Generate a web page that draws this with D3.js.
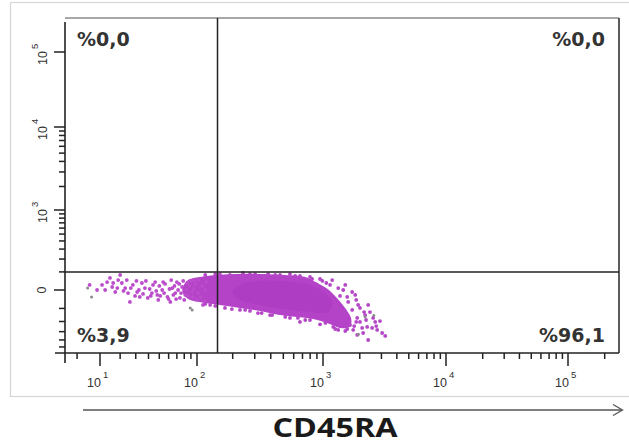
<!DOCTYPE html>
<html>
<head>
<meta charset="utf-8">
<script src="https://cdn.jsdelivr.net/npm/d3@7"></script>
<style>
  html, body { margin: 0; padding: 0; background: #fff; }
  svg { display: block; }
</style>
</head>
<body>
<svg id="chart" width="629" height="444"></svg>
<script>
// CD45RA (x) against the second marker (y), biexponential display.

// Axis decades and minor tick values
const xDecades = [10, 100, 1000, 10000, 100000];
const yDecades = [1000, 10000, 100000];
const xLowTicks = [3];
const yNegTicks = [-100, -200, -300, -400, -500];
const topValue = 262144;

// Quadrant gates and percentages
const gateCD45RA = 150;
const gateY = 100;
const quadrantText = ["%0,0", "%0,0", "%3,9", "%96,1"];

// Dense core of the population: outline and darker centre [CD45RA, y]
const coreOutline = [
  [86, 45], [106, 62], [143.6, 74], [209, 80], [330, 80], [517, 74], [734, 62],
  [874, 34], [1085, 0], [1309, -49], [1522, -110], [1665, -170], [1636, -242],
  [1380, -251], [1143, -213], [843, -170], [637, -155], [472, -139], [330, -110],
  [229, -91], [157, -72], [106, -55], [86, -38], [78.5, 0]
];
const coreCentre = [
  [252, 34], [472, 45], [798, 24], [1046, -14], [1190, -66], [1104, -125],
  [798, -125], [517, -104], [330, -78], [229, -49], [198, -9]
];

// Sparse events on the dim side of the population
const tailEvents = [
  [6.6, 24], [9.0, 0], [10.9, 24], [13.2, 39], [14.6, 62], [16.2, 34], [18.9, 50],
  [20, 80], [18.4, 9], [23, 9], [24.8, -14], [26, -60], [28, 24], [31, -9], [33, -33],
  [34.6, 34], [37, 9], [39.4, -38], [43, -14], [44, 24], [48, -23], [49, -49], [53, 0],
  [54, 39], [58.7, -33], [62, -60], [64.4, 9], [68, -14], [70, 39], [74, -38], [77, 14],
  [81.5, -23], [84.5, 34], [92, -9], [96, 50], [100, -49], [113, -78], [118, 0],
  [12.3, 0], [15.7, 14], [17.3, -9], [21, 34], [22, -4], [24, 50], [26.6, 9], [29.5, -28],
  [30.5, 45], [32.3, 0], [35.5, -18], [37.8, 45], [41, 4.5], [42, -28], [46, 39], [47, -4],
  [50, 19], [51, -28], [55, -14], [56, 29], [60, -44], [61, 4.5], [63, 50], [65.6, -23],
  [67, 19], [69, -44], [71.6, 0], [73, 29], [75.5, -14], [78.5, 45], [80, -49], [83, 0],
  [86, -28], [87.5, 19], [90.5, 45], [93, -33], [94.5, 4.5], [98, 29], [102, -14],
  [104, 50], [108, -33], [111, 19], [116, -55], [120.5, 39]
];

// Events along the upper and lower edge of the core and on the bright side
const edgeEvents = [
  [157, 86], [190, 80], [242, 93], [302, 86], [382, 86], [472, 80], [562, 86],
  [670, 74], [798, 68], [950, 56], [1065, 34],
  [118, 80], [143.6, 86], [209, 74], [275, 86], [362, 74], [433, 80], [616, 74],
  [828, 56], [990, 45], [1143, 24],
  [130, -78], [173, -97], [275, -117], [395, -147], [562, -170], [734, -187],
  [950, -226], [1260, -272], [1522, -293], [229, -110], [340, -132], [670, -204],
  [118, -72], [143.6, -84], [197, -104], [252, -110], [318, -132], [410, -147],
  [517, -162], [646, -170], [798, -187], [1046, -213], [1214, -251],
  [1190, 50], [1333, 9], [1465, 0], [1580, -33], [1836, -23], [1940, -78], [2008, -97],
  [2212, -147], [2420, -125], [2570, -170], [2296, -251], [2090, -261], [2130, -315],
  [2520, -261], [2770, -282], [3040, -315], [1905, -338], [1768, -282], [1665, -232],
  [3220, -350], [2340, -401], [2670, -204], [2250, -187], [1870, -204],
  [1380, -28], [1608, -60], [1733, -110], [1905, -170], [2008, -204], [1800, -242],
  [1580, -272], [1333, -282], [2170, -125], [2340, -78], [2720, -242], [2920, -196],
  [1870, -49], [1733, -9], [1522, 24]
];
const greyEvents = [
  [6.0, 9], [7.2, -33], [89, -97], [92, -110], [2212, -160], [2600, -150], [1950, -330]
];

// ---------- scales ----------
const W = 629, H = 444;
const plot = { left: 65, top: 18, right: 619, bottom: 353 };

const xSym = d3.scaleSymlog().constant(20).domain([0, topValue]).range([0, 1]);
const xPix = d3.scaleLinear()
  .domain([0, 10, 100, 1e3, 1e4, 1e5, topValue].map(xSym))
  .range([plot.left, 100, 197, 323, 446, 568, plot.right]);
const x = v => xPix(xSym(v));

const ySym = d3.scaleSymlog().constant(200).domain([-600, topValue]).range([0, 1]);
const yPix = d3.scaleLinear()
  .domain([-600, 0, 1e3, 1e4, 1e5, topValue].map(ySym))
  .range([plot.bottom, 290, 210, 127, 52, plot.top]);
const y = v => yPix(ySym(v));

const svg = d3.select("#chart");
const ink = "#222";
const textInk = "#333";

// outer panel frame
svg.append("rect")
  .attr("x", 10.5).attr("y", 2.5).attr("width", 640).attr("height", 394)
  .attr("fill", "none").attr("stroke", "#d6d6d6").attr("stroke-width", 1.2);

// ---------- events ----------
const g = svg.append("g");
const area = d3.line().x(d => x(d[0])).y(d => y(d[1])).curve(d3.curveCatmullRomClosed.alpha(0.5));

g.append("path").attr("d", area(coreOutline))
  .attr("fill", "#b443c8").attr("stroke", "#b443c8").attr("stroke-width", 2);
g.append("path").attr("d", area(coreCentre))
  .attr("fill", "#a838be").attr("opacity", 0.5);

g.selectAll("circle.tail").data(tailEvents).join("circle")
  .attr("class", "tail")
  .attr("cx", d => x(d[0])).attr("cy", d => y(d[1])).attr("r", 1.9)
  .attr("fill", "#bb4ccb");
g.selectAll("circle.edge").data(edgeEvents).join("circle")
  .attr("class", "edge")
  .attr("cx", d => x(d[0])).attr("cy", d => y(d[1])).attr("r", 1.9)
  .attr("fill", "#b447c6");
g.selectAll("circle.grey").data(greyEvents).join("circle")
  .attr("class", "grey")
  .attr("cx", d => x(d[0])).attr("cy", d => y(d[1])).attr("r", 1.5)
  .attr("fill", "#8c8c8c");

// ---------- frame and quadrant gates ----------
svg.append("line").attr("x1", plot.left).attr("x2", plot.right)
  .attr("y1", plot.top).attr("y2", plot.top)
  .attr("stroke", "#8a8a8a").attr("stroke-width", 1.4);
svg.append("line").attr("x1", plot.right).attr("x2", plot.right)
  .attr("y1", plot.top).attr("y2", plot.bottom)
  .attr("stroke", "#333").attr("stroke-width", 1.6);
// axes
svg.append("line").attr("x1", plot.left).attr("x2", plot.left)
  .attr("y1", plot.top + 4).attr("y2", plot.bottom + 10)
  .attr("stroke", ink).attr("stroke-width", 1.6);
svg.append("line").attr("x1", plot.left - 10).attr("x2", plot.right)
  .attr("y1", plot.bottom).attr("y2", plot.bottom)
  .attr("stroke", ink).attr("stroke-width", 1.6);

svg.append("line").attr("x1", x(gateCD45RA)).attr("x2", x(gateCD45RA))
  .attr("y1", plot.top).attr("y2", plot.bottom)
  .attr("stroke", ink).attr("stroke-width", 1.5);
svg.append("line").attr("x1", plot.left).attr("x2", plot.right)
  .attr("y1", y(gateY)).attr("y2", y(gateY))
  .attr("stroke", ink).attr("stroke-width", 1.5);

// ---------- x ticks ----------
const xMinor = [];
[10, 100, 1000, 10000].forEach(d => { for (let k = 2; k <= 9; k++) xMinor.push(d * k); });
xMinor.push(200000, ...xLowTicks);
const xt = svg.append("g").attr("stroke", ink).attr("stroke-width", 1.5);
xt.selectAll("line.minor").data(xMinor).join("line")
  .attr("x1", d => x(d)).attr("x2", d => x(d))
  .attr("y1", plot.bottom).attr("y2", plot.bottom + 6);
xt.selectAll("line.major").data(xDecades).join("line")
  .attr("x1", d => x(d)).attr("x2", d => x(d))
  .attr("y1", plot.bottom).attr("y2", plot.bottom + 13);

const xl = svg.append("g")
  .attr("font-family", "'Liberation Sans', Arial, sans-serif")
  .attr("fill", textInk);
xDecades.forEach(d => {
  const e = Math.round(Math.log10(d));
  xl.append("text").attr("x", x(d) + 1).attr("y", 387)
    .attr("text-anchor", "end").attr("font-size", 12.5).text("10");
  xl.append("text").attr("x", x(d) + 3).attr("y", 378)
    .attr("font-size", 9.5).text(e);
});

// ---------- y ticks ----------
const yMinor = [];
[100, 1000, 10000].forEach(d => { for (let k = 1; k <= 9; k++) if (d * k !== 1000 && !(d === 1000 && k === 1)) yMinor.push(d * k); });
yMinor.push(200000, ...yNegTicks);
const yt = svg.append("g").attr("stroke", ink).attr("stroke-width", 1.5);
yt.selectAll("line.minor").data(yMinor.filter(v => v % 10000 !== 0 || v < 10000)).join("line")
  .attr("x1", plot.left - 6).attr("x2", plot.left)
  .attr("y1", d => y(d)).attr("y2", d => y(d));
yt.selectAll("line.major").data([0, ...yDecades]).join("line")
  .attr("x1", plot.left - 11).attr("x2", plot.left)
  .attr("y1", d => y(d)).attr("y2", d => y(d));

const yl = svg.append("g")
  .attr("font-family", "'Liberation Sans', Arial, sans-serif")
  .attr("fill", textInk);
yDecades.forEach(d => {
  const e = Math.round(Math.log10(d));
  yl.append("text")
    .attr("transform", `translate(47,${y(d) - 1}) rotate(-90)`)
    .attr("text-anchor", "end").attr("font-size", 12.5).text("10");
  yl.append("text")
    .attr("transform", `translate(38,${y(d) - 3}) rotate(-90)`)
    .attr("font-size", 9.5).text(e);
});
yl.append("text")
  .attr("transform", `translate(46,${y(0)}) rotate(-90)`)
  .attr("text-anchor", "middle").attr("font-size", 12.5).text("0");

// ---------- quadrant percentages ----------
const ql = svg.append("g")
  .attr("font-family", "'DejaVu Sans', Verdana, sans-serif")
  .attr("font-weight", "bold").attr("font-size", 19).attr("fill", textInk);
ql.append("text").attr("x", 77).attr("y", 46).text(quadrantText[0]);
ql.append("text").attr("x", 605).attr("y", 46).attr("text-anchor", "end").text(quadrantText[1]);
ql.append("text").attr("x", 77).attr("y", 342).text(quadrantText[2]);
ql.append("text").attr("x", 605).attr("y", 342).attr("text-anchor", "end").text(quadrantText[3]);

// ---------- axis arrow and title ----------
svg.append("line").attr("x1", 83).attr("x2", 622).attr("y1", 410).attr("y2", 410)
  .attr("stroke", "#555").attr("stroke-width", 1.3);
svg.append("path").attr("d", "M613,404.5 L622.5,410 L613,415.5")
  .attr("fill", "none").attr("stroke", "#555").attr("stroke-width", 1.3);
svg.append("text").attr("x", 335).attr("y", 437).attr("text-anchor", "middle")
  .attr("font-family", "'Open Sans', sans-serif").attr("font-weight", "bold")
  .attr("font-size", 26).attr("fill", "#1a1a1a")
  .attr("textLength", 125).attr("lengthAdjust", "spacingAndGlyphs")
  .text("CD45RA");
</script>
</body>
</html>
